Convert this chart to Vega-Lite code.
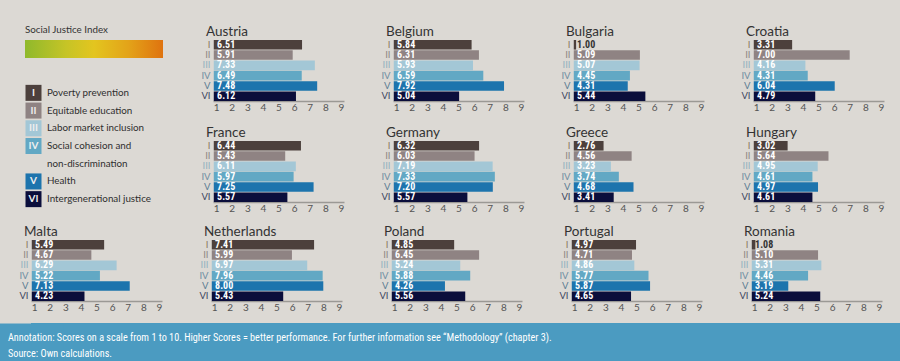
{
"$schema":"https://vega.github.io/schema/vega-lite/v6.json",
"padding":{"left":0,"top":24,"right":0,"bottom":0},
"background":"#dcd9d4",
"config":{"font":"Lato","view":{"stroke":null},
"title":{"fontSize":13.5,"fontWeight":"normal","color":"#333333","anchor":"start","frame":"group","dx":-7,"offset":1},
"axisX":{"ticks":false,"grid":false,"domainColor":"#9b9995","domainWidth":1.6,"labelFontSize":10,"labelColor":"#555555","labelPadding":1,"labelFlush":false,"labelOverlap":false},
"axisY":{"ticks":false,"domain":false,"grid":false,"labelFontSize":9.5,"labelPadding":3,"minExtent":31,"maxExtent":31}},
"datasets":{
"scores":[
{"country":"Austria","dim":"I","score":6.51},{"country":"Austria","dim":"II","score":5.91},{"country":"Austria","dim":"III","score":7.33},{"country":"Austria","dim":"IV","score":6.49},{"country":"Austria","dim":"V","score":7.48},{"country":"Austria","dim":"VI","score":6.12},
{"country":"Belgium","dim":"I","score":5.84},{"country":"Belgium","dim":"II","score":6.31},{"country":"Belgium","dim":"III","score":5.93},{"country":"Belgium","dim":"IV","score":6.59},{"country":"Belgium","dim":"V","score":7.92},{"country":"Belgium","dim":"VI","score":5.04},
{"country":"Bulgaria","dim":"I","score":1.00},{"country":"Bulgaria","dim":"II","score":5.09},{"country":"Bulgaria","dim":"III","score":5.07},{"country":"Bulgaria","dim":"IV","score":4.45},{"country":"Bulgaria","dim":"V","score":4.31},{"country":"Bulgaria","dim":"VI","score":5.44},
{"country":"Croatia","dim":"I","score":3.31},{"country":"Croatia","dim":"II","score":7.00},{"country":"Croatia","dim":"III","score":4.16},{"country":"Croatia","dim":"IV","score":4.31},{"country":"Croatia","dim":"V","score":6.04},{"country":"Croatia","dim":"VI","score":4.79},
{"country":"France","dim":"I","score":6.44},{"country":"France","dim":"II","score":5.43},{"country":"France","dim":"III","score":6.11},{"country":"France","dim":"IV","score":5.97},{"country":"France","dim":"V","score":7.25},{"country":"France","dim":"VI","score":5.57},
{"country":"Germany","dim":"I","score":6.32},{"country":"Germany","dim":"II","score":6.03},{"country":"Germany","dim":"III","score":7.19},{"country":"Germany","dim":"IV","score":7.33},{"country":"Germany","dim":"V","score":7.20},{"country":"Germany","dim":"VI","score":5.57},
{"country":"Greece","dim":"I","score":2.76},{"country":"Greece","dim":"II","score":4.56},{"country":"Greece","dim":"III","score":3.23},{"country":"Greece","dim":"IV","score":3.74},{"country":"Greece","dim":"V","score":4.68},{"country":"Greece","dim":"VI","score":3.41},
{"country":"Hungary","dim":"I","score":3.02},{"country":"Hungary","dim":"II","score":5.64},{"country":"Hungary","dim":"III","score":4.95},{"country":"Hungary","dim":"IV","score":4.61},{"country":"Hungary","dim":"V","score":4.97},{"country":"Hungary","dim":"VI","score":4.61},
{"country":"Malta","dim":"I","score":5.49},{"country":"Malta","dim":"II","score":4.67},{"country":"Malta","dim":"III","score":6.29},{"country":"Malta","dim":"IV","score":5.22},{"country":"Malta","dim":"V","score":7.13},{"country":"Malta","dim":"VI","score":4.23},
{"country":"Netherlands","dim":"I","score":7.41},{"country":"Netherlands","dim":"II","score":5.99},{"country":"Netherlands","dim":"III","score":6.97},{"country":"Netherlands","dim":"IV","score":7.96},{"country":"Netherlands","dim":"V","score":8.00},{"country":"Netherlands","dim":"VI","score":5.43},
{"country":"Poland","dim":"I","score":4.85},{"country":"Poland","dim":"II","score":6.45},{"country":"Poland","dim":"III","score":5.24},{"country":"Poland","dim":"IV","score":5.88},{"country":"Poland","dim":"V","score":4.26},{"country":"Poland","dim":"VI","score":5.56},
{"country":"Portugal","dim":"I","score":4.97},{"country":"Portugal","dim":"II","score":4.71},{"country":"Portugal","dim":"III","score":4.86},{"country":"Portugal","dim":"IV","score":5.77},{"country":"Portugal","dim":"V","score":5.87},{"country":"Portugal","dim":"VI","score":4.65},
{"country":"Romania","dim":"I","score":1.08},{"country":"Romania","dim":"II","score":5.10},{"country":"Romania","dim":"III","score":5.31},{"country":"Romania","dim":"IV","score":4.46},{"country":"Romania","dim":"V","score":3.19},{"country":"Romania","dim":"VI","score":5.24}
],
"legend":[
{"slot":"I","num":"I","label":"Poverty prevention"},
{"slot":"II","num":"II","label":"Equitable education"},
{"slot":"III","num":"III","label":"Labor market inclusion"},
{"slot":"IV","num":"IV","label":"Social cohesion and"},
{"slot":"IVb","num":null,"label":"non-discrimination"},
{"slot":"V","num":"V","label":"Health"},
{"slot":"VI","num":"VI","label":"Intergenerational justice"}
]},
"vconcat":[
{"vconcat":[
{"hconcat":[
{"vconcat":[
{"title":{"text":"Social Justice Index","fontSize":9.8,"dx":-6,"dy":-4,"color":"#333333","offset":1},"width":133,"height":18,"data":{"values":[{}]},
"mark":{"type":"rect","xOffset":-6,"x2Offset":-1,"fill":{"gradient":"linear","x1":0,"x2":1,"y1":0,"y2":0,"stops":[{"offset":0,"color":"#8fb92c"},{"offset":0.3,"color":"#c6c426"},{"offset":0.5,"color":"#e3c51f"},{"offset":0.75,"color":"#e3a319"},{"offset":1,"color":"#df730f"}]}},
"encoding":{"x":{"datum":0,"type":"quantitative","scale":{"domain":[0,1],"nice":false},"axis":null},"x2":{"datum":1},
"y":{"datum":0,"type":"quantitative","scale":{"domain":[0,1],"nice":false},"axis":{"title":null,"labelExpr":"''","grid":false,"labelFlush":true,"values":[0,1]}},"y2":{"datum":1}}},
{"width":133,"height":124,"data":{"name":"legend"},
"encoding":{"y":{"field":"slot","type":"nominal","scale":{"domain":["I","II","III","IV","IVb","V","VI"],"paddingInner":0,"paddingOuter":0},"axis":{"title":null,"labelExpr":"''"}},
"x":{"datum":0,"type":"quantitative","scale":{"domain":[0,1]},"axis":null}},
"layer":[
{"transform":[{"filter":"datum.num != null"}],"mark":{"type":"square","size":256,"filled":true,"opacity":1,"xOffset":2.5},"encoding":{"color":{"field":"num","type":"nominal","scale":{"domain":["I","II","III","IV","V","VI"],"range":["#4c403c","#8f8383","#a3c7d6","#62a8c4","#1d74ad","#0b0e3b"]},"legend":null}}},
{"transform":[{"filter":"datum.num != null"}],"mark":{"type":"text","xOffset":2.5,"align":"center","baseline":"middle","fontWeight":"bold","fontSize":10,"color":"#eeeeee"},"encoding":{"text":{"field":"num"}}},
{"mark":{"type":"text","align":"left","baseline":"middle","dx":16,"fontSize":9.8,"color":"#2e2e2e"},"encoding":{"text":{"field":"label"}}}
]}
],"spacing":26},
{"vconcat":[
{"hconcat":[
{"title":"Austria","width":131,"height":61,"data":{"name":"scores"},"transform":[{"filter":"datum.country==='Austria'"}],"encoding":{"y":{"field":"dim","type":"nominal","sort":["I","II","III","IV","V","VI"],"scale":{"paddingInner":0.07,"paddingOuter":0},"axis":{"title":null,"labelColor":{"condition":[{"test":"datum.value==='I'","value":"#8a7a62"},{"test":"datum.value==='II'","value":"#8e8886"},{"test":"datum.value==='III'","value":"#93b2c0"},{"test":"datum.value==='IV'","value":"#6f8ea2"},{"test":"datum.value==='V'","value":"#5d7d93"}],"value":"#3d4660"}}}},"layer":[{"mark":"bar","encoding":{"x":{"field":"score","type":"quantitative","scale":{"domain":[0.8,9.2],"nice":false,"zero":false},"axis":{"title":null,"values":[1,2,3,4,5,6,7,8,9],"labelOverlap":false,"labelBound":false}},"x2":{"datum":0.85},"color":{"field":"dim","type":"nominal","scale":{"domain":["I","II","III","IV","V","VI"],"range":["#4c403c","#8f8383","#a3c7d6","#62a8c4","#1d74ad","#0b0e3b"]},"legend":null}}},{"mark":{"type":"text","align":"left","baseline":"middle","dx":1,"fontWeight":"bold","fontSize":10,"font":"Liberation Sans Narrow, Roboto Condensed, sans-serif"},"encoding":{"x":{"datum":1,"axis":{"title":null,"values":[1,2,3,4,5,6,7,8,9],"labelOverlap":false,"labelBound":false}},"text":{"field":"score","type":"quantitative","format":".2f"},"color":{"condition":{"test":"datum.score < 1.5","value":"#333333"},"value":"#ffffff"}}}]},
{"title":"Belgium","width":131,"height":61,"data":{"name":"scores"},"transform":[{"filter":"datum.country==='Belgium'"}],"encoding":{"y":{"field":"dim","type":"nominal","sort":["I","II","III","IV","V","VI"],"scale":{"paddingInner":0.07,"paddingOuter":0},"axis":{"title":null,"labelColor":{"condition":[{"test":"datum.value==='I'","value":"#8a7a62"},{"test":"datum.value==='II'","value":"#8e8886"},{"test":"datum.value==='III'","value":"#93b2c0"},{"test":"datum.value==='IV'","value":"#6f8ea2"},{"test":"datum.value==='V'","value":"#5d7d93"}],"value":"#3d4660"}}}},"layer":[{"mark":"bar","encoding":{"x":{"field":"score","type":"quantitative","scale":{"domain":[0.8,9.2],"nice":false,"zero":false},"axis":{"title":null,"values":[1,2,3,4,5,6,7,8,9],"labelOverlap":false,"labelBound":false}},"x2":{"datum":0.85},"color":{"field":"dim","type":"nominal","scale":{"domain":["I","II","III","IV","V","VI"],"range":["#4c403c","#8f8383","#a3c7d6","#62a8c4","#1d74ad","#0b0e3b"]},"legend":null}}},{"mark":{"type":"text","align":"left","baseline":"middle","dx":1,"fontWeight":"bold","fontSize":10,"font":"Liberation Sans Narrow, Roboto Condensed, sans-serif"},"encoding":{"x":{"datum":1,"axis":{"title":null,"values":[1,2,3,4,5,6,7,8,9],"labelOverlap":false,"labelBound":false}},"text":{"field":"score","type":"quantitative","format":".2f"},"color":{"condition":{"test":"datum.score < 1.5","value":"#333333"},"value":"#ffffff"}}}]},
{"title":"Bulgaria","width":131,"height":61,"data":{"name":"scores"},"transform":[{"filter":"datum.country==='Bulgaria'"}],"encoding":{"y":{"field":"dim","type":"nominal","sort":["I","II","III","IV","V","VI"],"scale":{"paddingInner":0.07,"paddingOuter":0},"axis":{"title":null,"labelColor":{"condition":[{"test":"datum.value==='I'","value":"#8a7a62"},{"test":"datum.value==='II'","value":"#8e8886"},{"test":"datum.value==='III'","value":"#93b2c0"},{"test":"datum.value==='IV'","value":"#6f8ea2"},{"test":"datum.value==='V'","value":"#5d7d93"}],"value":"#3d4660"}}}},"layer":[{"mark":"bar","encoding":{"x":{"field":"score","type":"quantitative","scale":{"domain":[0.8,9.2],"nice":false,"zero":false},"axis":{"title":null,"values":[1,2,3,4,5,6,7,8,9],"labelOverlap":false,"labelBound":false}},"x2":{"datum":0.85},"color":{"field":"dim","type":"nominal","scale":{"domain":["I","II","III","IV","V","VI"],"range":["#4c403c","#8f8383","#a3c7d6","#62a8c4","#1d74ad","#0b0e3b"]},"legend":null}}},{"mark":{"type":"text","align":"left","baseline":"middle","dx":1,"fontWeight":"bold","fontSize":10,"font":"Liberation Sans Narrow, Roboto Condensed, sans-serif"},"encoding":{"x":{"datum":1,"axis":{"title":null,"values":[1,2,3,4,5,6,7,8,9],"labelOverlap":false,"labelBound":false}},"text":{"field":"score","type":"quantitative","format":".2f"},"color":{"condition":{"test":"datum.score < 1.5","value":"#333333"},"value":"#ffffff"}}}]},
{"title":"Croatia","width":131,"height":61,"data":{"name":"scores"},"transform":[{"filter":"datum.country==='Croatia'"}],"encoding":{"y":{"field":"dim","type":"nominal","sort":["I","II","III","IV","V","VI"],"scale":{"paddingInner":0.07,"paddingOuter":0},"axis":{"title":null,"labelColor":{"condition":[{"test":"datum.value==='I'","value":"#8a7a62"},{"test":"datum.value==='II'","value":"#8e8886"},{"test":"datum.value==='III'","value":"#93b2c0"},{"test":"datum.value==='IV'","value":"#6f8ea2"},{"test":"datum.value==='V'","value":"#5d7d93"}],"value":"#3d4660"}}}},"layer":[{"mark":"bar","encoding":{"x":{"field":"score","type":"quantitative","scale":{"domain":[0.8,9.2],"nice":false,"zero":false},"axis":{"title":null,"values":[1,2,3,4,5,6,7,8,9],"labelOverlap":false,"labelBound":false}},"x2":{"datum":0.85},"color":{"field":"dim","type":"nominal","scale":{"domain":["I","II","III","IV","V","VI"],"range":["#4c403c","#8f8383","#a3c7d6","#62a8c4","#1d74ad","#0b0e3b"]},"legend":null}}},{"mark":{"type":"text","align":"left","baseline":"middle","dx":1,"fontWeight":"bold","fontSize":10,"font":"Liberation Sans Narrow, Roboto Condensed, sans-serif"},"encoding":{"x":{"datum":1,"axis":{"title":null,"values":[1,2,3,4,5,6,7,8,9],"labelOverlap":false,"labelBound":false}},"text":{"field":"score","type":"quantitative","format":".2f"},"color":{"condition":{"test":"datum.score < 1.5","value":"#333333"},"value":"#ffffff"}}}]}
],"spacing":18},
{"hconcat":[
{"title":"France","width":131,"height":61,"data":{"name":"scores"},"transform":[{"filter":"datum.country==='France'"}],"encoding":{"y":{"field":"dim","type":"nominal","sort":["I","II","III","IV","V","VI"],"scale":{"paddingInner":0.07,"paddingOuter":0},"axis":{"title":null,"labelColor":{"condition":[{"test":"datum.value==='I'","value":"#8a7a62"},{"test":"datum.value==='II'","value":"#8e8886"},{"test":"datum.value==='III'","value":"#93b2c0"},{"test":"datum.value==='IV'","value":"#6f8ea2"},{"test":"datum.value==='V'","value":"#5d7d93"}],"value":"#3d4660"}}}},"layer":[{"mark":"bar","encoding":{"x":{"field":"score","type":"quantitative","scale":{"domain":[0.8,9.2],"nice":false,"zero":false},"axis":{"title":null,"values":[1,2,3,4,5,6,7,8,9],"labelOverlap":false,"labelBound":false}},"x2":{"datum":0.85},"color":{"field":"dim","type":"nominal","scale":{"domain":["I","II","III","IV","V","VI"],"range":["#4c403c","#8f8383","#a3c7d6","#62a8c4","#1d74ad","#0b0e3b"]},"legend":null}}},{"mark":{"type":"text","align":"left","baseline":"middle","dx":1,"fontWeight":"bold","fontSize":10,"font":"Liberation Sans Narrow, Roboto Condensed, sans-serif"},"encoding":{"x":{"datum":1,"axis":{"title":null,"values":[1,2,3,4,5,6,7,8,9],"labelOverlap":false,"labelBound":false}},"text":{"field":"score","type":"quantitative","format":".2f"},"color":{"condition":{"test":"datum.score < 1.5","value":"#333333"},"value":"#ffffff"}}}]},
{"title":"Germany","width":131,"height":61,"data":{"name":"scores"},"transform":[{"filter":"datum.country==='Germany'"}],"encoding":{"y":{"field":"dim","type":"nominal","sort":["I","II","III","IV","V","VI"],"scale":{"paddingInner":0.07,"paddingOuter":0},"axis":{"title":null,"labelColor":{"condition":[{"test":"datum.value==='I'","value":"#8a7a62"},{"test":"datum.value==='II'","value":"#8e8886"},{"test":"datum.value==='III'","value":"#93b2c0"},{"test":"datum.value==='IV'","value":"#6f8ea2"},{"test":"datum.value==='V'","value":"#5d7d93"}],"value":"#3d4660"}}}},"layer":[{"mark":"bar","encoding":{"x":{"field":"score","type":"quantitative","scale":{"domain":[0.8,9.2],"nice":false,"zero":false},"axis":{"title":null,"values":[1,2,3,4,5,6,7,8,9],"labelOverlap":false,"labelBound":false}},"x2":{"datum":0.85},"color":{"field":"dim","type":"nominal","scale":{"domain":["I","II","III","IV","V","VI"],"range":["#4c403c","#8f8383","#a3c7d6","#62a8c4","#1d74ad","#0b0e3b"]},"legend":null}}},{"mark":{"type":"text","align":"left","baseline":"middle","dx":1,"fontWeight":"bold","fontSize":10,"font":"Liberation Sans Narrow, Roboto Condensed, sans-serif"},"encoding":{"x":{"datum":1,"axis":{"title":null,"values":[1,2,3,4,5,6,7,8,9],"labelOverlap":false,"labelBound":false}},"text":{"field":"score","type":"quantitative","format":".2f"},"color":{"condition":{"test":"datum.score < 1.5","value":"#333333"},"value":"#ffffff"}}}]},
{"title":"Greece","width":131,"height":61,"data":{"name":"scores"},"transform":[{"filter":"datum.country==='Greece'"}],"encoding":{"y":{"field":"dim","type":"nominal","sort":["I","II","III","IV","V","VI"],"scale":{"paddingInner":0.07,"paddingOuter":0},"axis":{"title":null,"labelColor":{"condition":[{"test":"datum.value==='I'","value":"#8a7a62"},{"test":"datum.value==='II'","value":"#8e8886"},{"test":"datum.value==='III'","value":"#93b2c0"},{"test":"datum.value==='IV'","value":"#6f8ea2"},{"test":"datum.value==='V'","value":"#5d7d93"}],"value":"#3d4660"}}}},"layer":[{"mark":"bar","encoding":{"x":{"field":"score","type":"quantitative","scale":{"domain":[0.8,9.2],"nice":false,"zero":false},"axis":{"title":null,"values":[1,2,3,4,5,6,7,8,9],"labelOverlap":false,"labelBound":false}},"x2":{"datum":0.85},"color":{"field":"dim","type":"nominal","scale":{"domain":["I","II","III","IV","V","VI"],"range":["#4c403c","#8f8383","#a3c7d6","#62a8c4","#1d74ad","#0b0e3b"]},"legend":null}}},{"mark":{"type":"text","align":"left","baseline":"middle","dx":1,"fontWeight":"bold","fontSize":10,"font":"Liberation Sans Narrow, Roboto Condensed, sans-serif"},"encoding":{"x":{"datum":1,"axis":{"title":null,"values":[1,2,3,4,5,6,7,8,9],"labelOverlap":false,"labelBound":false}},"text":{"field":"score","type":"quantitative","format":".2f"},"color":{"condition":{"test":"datum.score < 1.5","value":"#333333"},"value":"#ffffff"}}}]},
{"title":"Hungary","width":131,"height":61,"data":{"name":"scores"},"transform":[{"filter":"datum.country==='Hungary'"}],"encoding":{"y":{"field":"dim","type":"nominal","sort":["I","II","III","IV","V","VI"],"scale":{"paddingInner":0.07,"paddingOuter":0},"axis":{"title":null,"labelColor":{"condition":[{"test":"datum.value==='I'","value":"#8a7a62"},{"test":"datum.value==='II'","value":"#8e8886"},{"test":"datum.value==='III'","value":"#93b2c0"},{"test":"datum.value==='IV'","value":"#6f8ea2"},{"test":"datum.value==='V'","value":"#5d7d93"}],"value":"#3d4660"}}}},"layer":[{"mark":"bar","encoding":{"x":{"field":"score","type":"quantitative","scale":{"domain":[0.8,9.2],"nice":false,"zero":false},"axis":{"title":null,"values":[1,2,3,4,5,6,7,8,9],"labelOverlap":false,"labelBound":false}},"x2":{"datum":0.85},"color":{"field":"dim","type":"nominal","scale":{"domain":["I","II","III","IV","V","VI"],"range":["#4c403c","#8f8383","#a3c7d6","#62a8c4","#1d74ad","#0b0e3b"]},"legend":null}}},{"mark":{"type":"text","align":"left","baseline":"middle","dx":1,"fontWeight":"bold","fontSize":10,"font":"Liberation Sans Narrow, Roboto Condensed, sans-serif"},"encoding":{"x":{"datum":1,"axis":{"title":null,"values":[1,2,3,4,5,6,7,8,9],"labelOverlap":false,"labelBound":false}},"text":{"field":"score","type":"quantitative","format":".2f"},"color":{"condition":{"test":"datum.score < 1.5","value":"#333333"},"value":"#ffffff"}}}]}
],"spacing":18}
],"spacing":13}
],"spacing":18},
{"hconcat":[
{"title":"Malta","width":131,"height":61,"data":{"name":"scores"},"transform":[{"filter":"datum.country==='Malta'"}],"encoding":{"y":{"field":"dim","type":"nominal","sort":["I","II","III","IV","V","VI"],"scale":{"paddingInner":0.07,"paddingOuter":0},"axis":{"title":null,"labelColor":{"condition":[{"test":"datum.value==='I'","value":"#8a7a62"},{"test":"datum.value==='II'","value":"#8e8886"},{"test":"datum.value==='III'","value":"#93b2c0"},{"test":"datum.value==='IV'","value":"#6f8ea2"},{"test":"datum.value==='V'","value":"#5d7d93"}],"value":"#3d4660"}}}},"layer":[{"mark":"bar","encoding":{"x":{"field":"score","type":"quantitative","scale":{"domain":[0.8,9.2],"nice":false,"zero":false},"axis":{"title":null,"values":[1,2,3,4,5,6,7,8,9],"labelOverlap":false,"labelBound":false}},"x2":{"datum":0.85},"color":{"field":"dim","type":"nominal","scale":{"domain":["I","II","III","IV","V","VI"],"range":["#4c403c","#8f8383","#a3c7d6","#62a8c4","#1d74ad","#0b0e3b"]},"legend":null}}},{"mark":{"type":"text","align":"left","baseline":"middle","dx":1,"fontWeight":"bold","fontSize":10,"font":"Liberation Sans Narrow, Roboto Condensed, sans-serif"},"encoding":{"x":{"datum":1,"axis":{"title":null,"values":[1,2,3,4,5,6,7,8,9],"labelOverlap":false,"labelBound":false}},"text":{"field":"score","type":"quantitative","format":".2f"},"color":{"condition":{"test":"datum.score < 1.5","value":"#333333"},"value":"#ffffff"}}}]},
{"title":"Netherlands","width":131,"height":61,"data":{"name":"scores"},"transform":[{"filter":"datum.country==='Netherlands'"}],"encoding":{"y":{"field":"dim","type":"nominal","sort":["I","II","III","IV","V","VI"],"scale":{"paddingInner":0.07,"paddingOuter":0},"axis":{"title":null,"labelColor":{"condition":[{"test":"datum.value==='I'","value":"#8a7a62"},{"test":"datum.value==='II'","value":"#8e8886"},{"test":"datum.value==='III'","value":"#93b2c0"},{"test":"datum.value==='IV'","value":"#6f8ea2"},{"test":"datum.value==='V'","value":"#5d7d93"}],"value":"#3d4660"}}}},"layer":[{"mark":"bar","encoding":{"x":{"field":"score","type":"quantitative","scale":{"domain":[0.8,9.2],"nice":false,"zero":false},"axis":{"title":null,"values":[1,2,3,4,5,6,7,8,9],"labelOverlap":false,"labelBound":false}},"x2":{"datum":0.85},"color":{"field":"dim","type":"nominal","scale":{"domain":["I","II","III","IV","V","VI"],"range":["#4c403c","#8f8383","#a3c7d6","#62a8c4","#1d74ad","#0b0e3b"]},"legend":null}}},{"mark":{"type":"text","align":"left","baseline":"middle","dx":1,"fontWeight":"bold","fontSize":10,"font":"Liberation Sans Narrow, Roboto Condensed, sans-serif"},"encoding":{"x":{"datum":1,"axis":{"title":null,"values":[1,2,3,4,5,6,7,8,9],"labelOverlap":false,"labelBound":false}},"text":{"field":"score","type":"quantitative","format":".2f"},"color":{"condition":{"test":"datum.score < 1.5","value":"#333333"},"value":"#ffffff"}}}]},
{"title":"Poland","width":131,"height":61,"data":{"name":"scores"},"transform":[{"filter":"datum.country==='Poland'"}],"encoding":{"y":{"field":"dim","type":"nominal","sort":["I","II","III","IV","V","VI"],"scale":{"paddingInner":0.07,"paddingOuter":0},"axis":{"title":null,"labelColor":{"condition":[{"test":"datum.value==='I'","value":"#8a7a62"},{"test":"datum.value==='II'","value":"#8e8886"},{"test":"datum.value==='III'","value":"#93b2c0"},{"test":"datum.value==='IV'","value":"#6f8ea2"},{"test":"datum.value==='V'","value":"#5d7d93"}],"value":"#3d4660"}}}},"layer":[{"mark":"bar","encoding":{"x":{"field":"score","type":"quantitative","scale":{"domain":[0.8,9.2],"nice":false,"zero":false},"axis":{"title":null,"values":[1,2,3,4,5,6,7,8,9],"labelOverlap":false,"labelBound":false}},"x2":{"datum":0.85},"color":{"field":"dim","type":"nominal","scale":{"domain":["I","II","III","IV","V","VI"],"range":["#4c403c","#8f8383","#a3c7d6","#62a8c4","#1d74ad","#0b0e3b"]},"legend":null}}},{"mark":{"type":"text","align":"left","baseline":"middle","dx":1,"fontWeight":"bold","fontSize":10,"font":"Liberation Sans Narrow, Roboto Condensed, sans-serif"},"encoding":{"x":{"datum":1,"axis":{"title":null,"values":[1,2,3,4,5,6,7,8,9],"labelOverlap":false,"labelBound":false}},"text":{"field":"score","type":"quantitative","format":".2f"},"color":{"condition":{"test":"datum.score < 1.5","value":"#333333"},"value":"#ffffff"}}}]},
{"title":"Portugal","width":131,"height":61,"data":{"name":"scores"},"transform":[{"filter":"datum.country==='Portugal'"}],"encoding":{"y":{"field":"dim","type":"nominal","sort":["I","II","III","IV","V","VI"],"scale":{"paddingInner":0.07,"paddingOuter":0},"axis":{"title":null,"labelColor":{"condition":[{"test":"datum.value==='I'","value":"#8a7a62"},{"test":"datum.value==='II'","value":"#8e8886"},{"test":"datum.value==='III'","value":"#93b2c0"},{"test":"datum.value==='IV'","value":"#6f8ea2"},{"test":"datum.value==='V'","value":"#5d7d93"}],"value":"#3d4660"}}}},"layer":[{"mark":"bar","encoding":{"x":{"field":"score","type":"quantitative","scale":{"domain":[0.8,9.2],"nice":false,"zero":false},"axis":{"title":null,"values":[1,2,3,4,5,6,7,8,9],"labelOverlap":false,"labelBound":false}},"x2":{"datum":0.85},"color":{"field":"dim","type":"nominal","scale":{"domain":["I","II","III","IV","V","VI"],"range":["#4c403c","#8f8383","#a3c7d6","#62a8c4","#1d74ad","#0b0e3b"]},"legend":null}}},{"mark":{"type":"text","align":"left","baseline":"middle","dx":1,"fontWeight":"bold","fontSize":10,"font":"Liberation Sans Narrow, Roboto Condensed, sans-serif"},"encoding":{"x":{"datum":1,"axis":{"title":null,"values":[1,2,3,4,5,6,7,8,9],"labelOverlap":false,"labelBound":false}},"text":{"field":"score","type":"quantitative","format":".2f"},"color":{"condition":{"test":"datum.score < 1.5","value":"#333333"},"value":"#ffffff"}}}]},
{"title":"Romania","width":131,"height":61,"data":{"name":"scores"},"transform":[{"filter":"datum.country==='Romania'"}],"encoding":{"y":{"field":"dim","type":"nominal","sort":["I","II","III","IV","V","VI"],"scale":{"paddingInner":0.07,"paddingOuter":0},"axis":{"title":null,"labelColor":{"condition":[{"test":"datum.value==='I'","value":"#8a7a62"},{"test":"datum.value==='II'","value":"#8e8886"},{"test":"datum.value==='III'","value":"#93b2c0"},{"test":"datum.value==='IV'","value":"#6f8ea2"},{"test":"datum.value==='V'","value":"#5d7d93"}],"value":"#3d4660"}}}},"layer":[{"mark":"bar","encoding":{"x":{"field":"score","type":"quantitative","scale":{"domain":[0.8,9.2],"nice":false,"zero":false},"axis":{"title":null,"values":[1,2,3,4,5,6,7,8,9],"labelOverlap":false,"labelBound":false}},"x2":{"datum":0.85},"color":{"field":"dim","type":"nominal","scale":{"domain":["I","II","III","IV","V","VI"],"range":["#4c403c","#8f8383","#a3c7d6","#62a8c4","#1d74ad","#0b0e3b"]},"legend":null}}},{"mark":{"type":"text","align":"left","baseline":"middle","dx":1,"fontWeight":"bold","fontSize":10,"font":"Liberation Sans Narrow, Roboto Condensed, sans-serif"},"encoding":{"x":{"datum":1,"axis":{"title":null,"values":[1,2,3,4,5,6,7,8,9],"labelOverlap":false,"labelBound":false}},"text":{"field":"score","type":"quantitative","format":".2f"},"color":{"condition":{"test":"datum.score < 1.5","value":"#333333"},"value":"#ffffff"}}}]}
],"spacing":18}
],"spacing":11},
{"width":900,"height":39,"view":{"fill":"#4b9bc1","stroke":null},"data":{"values":[{"lines":["Annotation: Scores on a scale from 1 to 10. Higher Scores = better performance. For further information see \u201cMethodology\u201d (chapter 3).","Source: Own calculations."]}]},
"mark":{"type":"text","align":"left","baseline":"middle","dx":-23,"dy":-5,"fontSize":10.2,"lineHeight":16,"color":"#ffffff","font":"Liberation Sans Narrow, Roboto Condensed, sans-serif"},
"encoding":{"x":{"datum":0,"type":"quantitative","scale":{"domain":[0,1]},"axis":null},
"y":{"datum":0.5,"type":"quantitative","scale":{"domain":[0,1]},"axis":{"title":null,"labels":false,"ticks":false,"grid":false,"domain":true,"domainColor":"#4b9bc1","domainWidth":64,"domainCap":"butt","minExtent":0,"maxExtent":0}},
"text":{"field":"lines"}}}
],
"spacing":11
}
